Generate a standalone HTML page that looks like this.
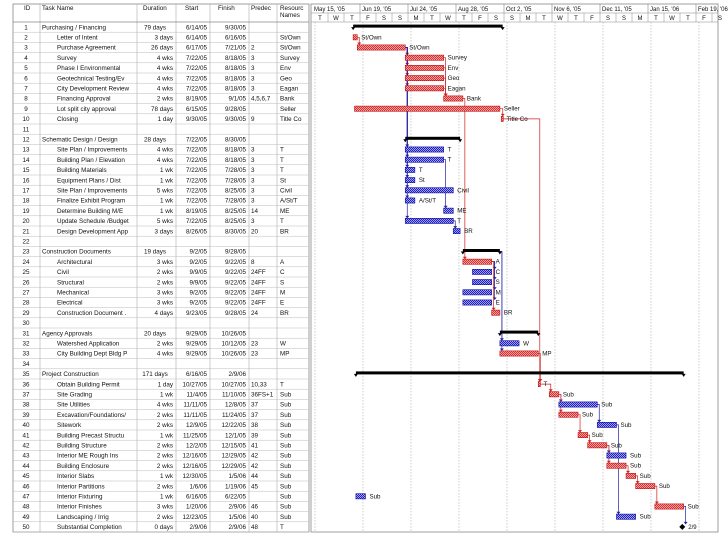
<!DOCTYPE html>
<html><head><meta charset="utf-8">
<style>
html,body{margin:0;padding:0;background:#fff;}
body{width:728px;height:546px;overflow:hidden;position:relative;font-family:"Liberation Sans",sans-serif;}
svg text{font-family:"Liberation Sans",sans-serif;}
</style></head>
<body>
<svg id="g" width="728" height="546" xmlns="http://www.w3.org/2000/svg">
<defs>
<pattern id="pr" width="2" height="2" patternUnits="userSpaceOnUse"><rect width="2" height="2" fill="#f4a0a0"/><rect width="1" height="1" fill="#d83030"/><rect x="1" y="1" width="1" height="1" fill="#d83030"/></pattern>
<pattern id="pb" width="2" height="2" patternUnits="userSpaceOnUse"><rect width="2" height="2" fill="#a0a0f4"/><rect width="1" height="1" fill="#2020c0"/><rect x="1" y="1" width="1" height="1" fill="#2020c0"/></pattern>
</defs>
</svg>
<script>
const ids=[1,2,3,4,5,6,7,8,9,10,11,12,13,14,15,16,17,18,19,20,21,22,23,24,25,26,27,28,29,30,31,32,33,34,35,36,37,38,39,40,41,42,43,44,45,46,47,48,49,50];
const names=["Purchasing / Financing","Letter of Intent","Purchase Agreement","Survey","Phase I Environmental","Geotechnical Testing/Ev","City Development Review","Financing Approval","Lot split city approval","Closing","","Schematic Design / Design","Site Plan / Improvements","Building Plan / Elevation","Building Materials","Equipment Plans / Dist","Site Plan / Improvements","Finalize Exhibit Program","Determine Building M/E","Update Schedule /Budget","Design Development App","","Construction Documents","Architectural","Civil","Structural","Mechanical","Electrical","Construction Document .","","Agency Approvals","Watershed Application","City Building Dept Bldg P","","Project Construction","Obtain Building Permit","Site Grading","Site Utilities","Excavation/Foundations/","Sitework","Building Precast Structu","Building Structure","Interior ME Rough Ins","Building Enclosure","Interior Slabs","Interior Partitions","Interior Fixturing","Interior Finishes","Landscaping / Irrig","Substantial Completion"];
const durations=["79 days","3 days","26 days","4 wks","4 wks","4 wks","4 wks","2 wks","78 days","1 day","","28 days","4 wks","4 wks","1 wk","1 wk","5 wks","1 wk","1 wk","5 wks","3 days","","19 days","3 wks","2 wks","2 wks","3 wks","3 wks","4 days","","20 days","2 wks","4 wks","","171 days","1 day","1 wk","4 wks","2 wks","2 wks","1 wk","2 wks","2 wks","2 wks","1 wk","2 wks","1 wk","3 wks","2 wks","0 days"];
const starts=["6/14/05","6/14/05","6/17/05","7/22/05","7/22/05","7/22/05","7/22/05","8/19/05","6/15/05","9/30/05","","7/22/05","7/22/05","7/22/05","7/22/05","7/22/05","7/22/05","7/22/05","8/19/05","7/22/05","8/26/05","","9/2/05","9/2/05","9/9/05","9/9/05","9/2/05","9/2/05","9/23/05","","9/29/05","9/29/05","9/29/05","","6/16/05","10/27/05","11/4/05","11/11/05","11/11/05","12/9/05","11/25/05","12/2/05","12/16/05","12/16/05","12/30/05","1/6/06","6/16/05","1/20/06","12/23/05","2/9/06"];
const finishes=["9/30/05","6/16/05","7/21/05","8/18/05","8/18/05","8/18/05","8/18/05","9/1/05","9/28/05","9/30/05","","8/30/05","8/18/05","8/18/05","7/28/05","7/28/05","8/25/05","7/28/05","8/25/05","8/25/05","8/30/05","","9/28/05","9/22/05","9/22/05","9/22/05","9/22/05","9/22/05","9/28/05","","10/26/05","10/12/05","10/26/05","","2/9/06","10/27/05","11/10/05","12/8/05","11/24/05","12/22/05","12/1/05","12/15/05","12/29/05","12/29/05","1/5/06","1/19/06","6/22/05","2/9/06","1/5/06","2/9/06"];
const preds=["","","2","3","3","3","3","4,5,6,7","","9","","","3","3","3","3","3","3","14","3","20","","","8","24FF","24FF","24FF","24FF","24","","","23","23","","","10,33","36FS+1","37","37","38","39","41","42","42","44","45","","46","40","48"];
const resources=["","St/Own","St/Own","Survey","Env","Geo","Eagan","Bank","Seller","Title Co","","","T","T","T","St","Civil","A/St/T","ME","T","BR","","","A","C","S","M","E","BR","","","W","MP","","","T","Sub","Sub","Sub","Sub","Sub","Sub","Sub","Sub","Sub","Sub","Sub","Sub","Sub","T"];
const summaryRows=[1,12,23,31,35];
const criticalRows=[2,3,4,5,6,7,8,9,10,24,29,33,36,37,39,41,42,44,45,46,48];
const milestoneRows=[50];
const majorLabels=["May 15, '05","Jun 19, '05","Jul 24, '05","Aug 28, '05","Oct 2, '05","Nov 6, '05","Dec 11, '05","Jan 15, '06","Feb 19, '06"];
const minorLetters=["T","W","T","F","S","S","M"];

const NS="http://www.w3.org/2000/svg";
const svg=document.getElementById('g');
function el(t,a,p){const e=document.createElementNS(NS,t);for(const k in a)e.setAttribute(k,a[k]);(p||svg).appendChild(e);return e;}
function tx(x,y,s,a,p){const e=el('text',Object.assign({x:x,y:y,'font-size':6.3,fill:'#111'},a||{}),p);e.textContent=s;return e;}
const T0=Date.UTC(2005,4,15), X0=312, PX=48/35;
function day(s){const p=s.split('/');return (Date.UTC(2000+ +p[2],p[0]-1,+p[1])-T0)/864e5;}
function xs(s){return X0+day(s)*PX;}
function xf(s){return X0+(day(s)+1)*PX;}
const RH=10.2, TOP=22;
function rc(i){return TOP+(i-0.5)*RH;}

// table
const tbl=el('g',{});  
const cols=[13,40,137,176,210,249,277,309];
const bottom=TOP+50*RH;
el('rect',{x:13,y:4,width:296,height:bottom-4,fill:'none',stroke:'#888','stroke-width':0.8},tbl);
for(const c of cols.slice(1,-1)) el('line',{x1:c,y1:4,x2:c,y2:bottom,stroke:'#aaa','stroke-width':0.6},tbl);
el('line',{x1:13,y1:TOP,x2:309,y2:TOP,stroke:'#888','stroke-width':0.8},tbl);
const heads=[["ID",24],["Task Name",42],["Duration",143],["Start",185],["Finish",218],["Predec",251],["Resourc",280]];
for(const h of heads){const t=tx(h[1],10,h[0],{},tbl);}
tx(280,17,"Names",{},tbl);
for(let i=1;i<=50;i++){
  const y=TOP+i*RH;
  el('line',{x1:13,y1:y,x2:309,y2:y,stroke:'#bbb','stroke-width':0.5},tbl);
  const cy=rc(i)+2.2, k=i-1, sum=summaryRows.includes(i);
  const row=el('g',{},tbl);
  
  
  tx(26,cy,String(ids[k]),{'text-anchor':'middle'},row);
  tx(sum?42:57,cy,names[k],{},row);
  tx(sum?155:173,cy,durations[k],{'text-anchor':sum?'middle':'end'},row);
  tx(207,cy,starts[k],{'text-anchor':'end'},row);
  tx(246,cy,finishes[k],{'text-anchor':sum?'end':'end'},row);
  tx(251,cy,preds[k],{},row);
  tx(280,cy,resources[k],{},row);
}

// chart header
const hdr=el('g',{});  
el('rect',{x:311,y:4,width:407,height:bottom-4,fill:'none',stroke:'#888','stroke-width':0.8},hdr);
el('line',{x1:311,y1:13,x2:718,y2:13,stroke:'#888','stroke-width':0.6},hdr);
el('line',{x1:311,y1:TOP,x2:718,y2:TOP,stroke:'#888','stroke-width':0.6},hdr);
for(let m=0;m<majorLabels.length;m++){
  const x=X0+m*48;
  if(m>0) el('line',{x1:x,y1:4,x2:x,y2:13,stroke:'#888','stroke-width':0.6},hdr);
  tx(x+2,11,majorLabels[m],{'font-size':6},hdr);
  el('line',{x1:x+3,y1:TOP,x2:x+3,y2:bottom,stroke:'#999','stroke-width':0.5,'stroke-dasharray':'1.5,1.5'},hdr);
}
for(let j=0;j<26;j++){
  const x=X0+j*16;
  if(j>0) el('line',{x1:x,y1:13,x2:x,y2:TOP,stroke:'#888','stroke-width':0.5},hdr);
  tx(x+8,20,minorLetters[j%7],{'font-size':6,'text-anchor':'middle'},hdr);
}

// dependency links
const links=el('g',{});  
for(let i=1;i<=50;i++){
  const p=preds[i-1]; if(!p) continue;
  const list=p.split(',').map(s=>parseInt(s));
  for(const q of list){
    if(!q) continue;
    const ff=p.includes('FF');
    const crit=criticalRows.includes(i)&&criticalRows.includes(q);
    const col=crit?'#d02020':'#2020a0';
    const x1=xf(finishes[q-1]), y1=rc(q);
    const tx2=ff?xf(finishes[i-1]):xs(starts[i-1])+1.5;
    const y2=rc(i)-3;
    const xm=ff?x1+3:Math.max(tx2,x1+2);
    el('polyline',{points:`${x1},${y1} ${xm},${y1} ${xm},${y2}`,fill:'none',stroke:col,'stroke-width':0.7},links);
    el('polygon',{points:`${xm-2},${y2-2} ${xm+2},${y2-2} ${xm},${y2+0.5}`,fill:col},links);
  }
}

// bars
for(let i=1;i<=50;i++){
  const k=i-1; if(!starts[k]) continue;
  const cy=rc(i);
  const g=el('g',{});
  
  
  let xe;
  if(summaryRows.includes(i)){
    const a=xs(starts[k]), b=xf(finishes[k]); xe=b;
    el('rect',{x:a,y:cy-2.5,width:b-a,height:3,fill:'#000'},g);
    el('polygon',{points:`${a-2},${cy} ${a+2},${cy} ${a},${cy+3}`,fill:'#000'},g);
    el('polygon',{points:`${b-2},${cy} ${b+2},${cy} ${b},${cy+3}`,fill:'#000'},g);
    continue;
  } else if(milestoneRows.includes(i)){
    const a=xs(starts[k]); xe=a+4;
    el('polygon',{points:`${a},${cy-3} ${a+3},${cy} ${a},${cy+3} ${a-3},${cy}`,fill:'#000'},g);
    tx(a+6,cy+2,finishes[k].replace(/\/\d\d$/,''),{'font-size':6},g);
    continue;
  } else {
    const a=xs(starts[k]), b=xf(finishes[k]); xe=b;
    const crit=criticalRows.includes(i);
    el('rect',{x:a,y:cy-2.6,width:Math.max(b-a,2),height:5.2,fill:crit?'url(#pr)':'url(#pb)',stroke:crit?'#c01010':'#1010a0','stroke-width':0.6},g);
  }
  if(resources[k]) tx(xe+4,cy+2,resources[k],{'font-size':6.2},g);
}
</script>
</body></html>
